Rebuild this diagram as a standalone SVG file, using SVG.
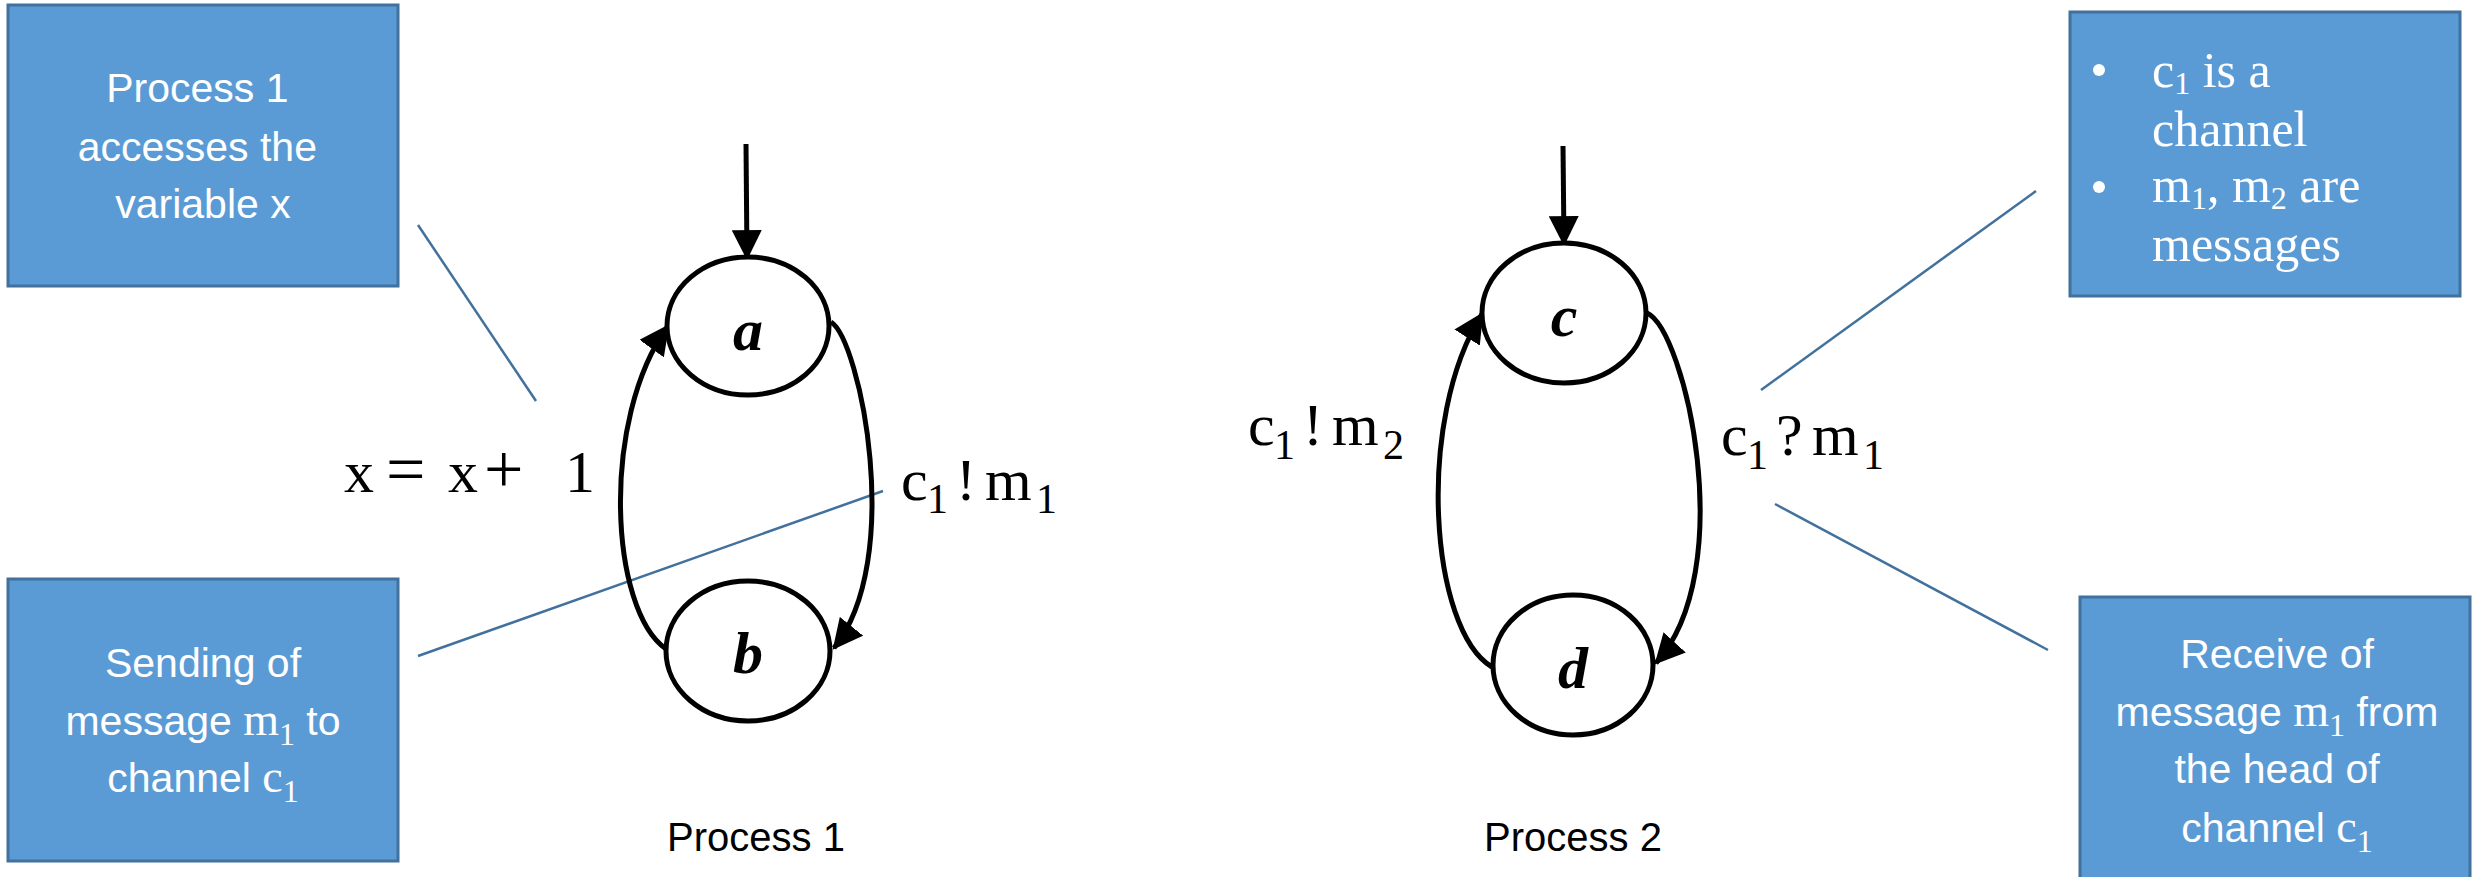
<svg xmlns="http://www.w3.org/2000/svg" width="2473" height="877" viewBox="0 0 2473 877">
  <style>
    .note { fill: #5B9BD5; stroke: #41719C; stroke-width: 3; }
    .note-text { font-family: "Liberation Sans", Arial, sans-serif; font-size: 41px; fill: #ffffff; }
    .note-math { font-family: "Liberation Serif", "Times New Roman", serif; }
    .legend { font-family: "Liberation Serif", "Times New Roman", serif; font-size: 50px; fill: #ffffff; }
    .leader { stroke: #41719C; stroke-width: 2.5; fill: none; }
    .state { fill: #ffffff; stroke: #000000; stroke-width: 5; }
    .state-label { font-family: "Liberation Serif", "Times New Roman", serif; font-size: 60px; font-style: italic; font-weight: bold; text-anchor: middle; fill: #000000; }
    .edge { stroke: #000000; stroke-width: 5; fill: none; marker-end: url(#head); }
    .math { font-family: "Liberation Serif", "Times New Roman", serif; font-size: 60px; fill: #000000; }
    .op { font-size: 70px; }
    .sub { font-size: 42px; }
    .caption { font-family: "Liberation Sans", Arial, sans-serif; font-size: 40px; text-anchor: middle; fill: #000000; }
  </style>
  <defs>
    <marker id="head" markerUnits="userSpaceOnUse" markerWidth="30" markerHeight="30" viewBox="0 0 28 28" refX="26" refY="14" orient="auto">
      <path d="M0,0 L28,14 L0,28 z" fill="#000000"/>
    </marker>
  </defs>

  <rect width="2473" height="877" fill="#ffffff"/>

  <!-- callout leader lines -->
  <g id="leaders">
    <line class="leader" x1="418" y1="225" x2="536" y2="401"/>
    <line class="leader" x1="418" y1="656" x2="883" y2="491"/>
    <line class="leader" x1="1761" y1="390" x2="2036" y2="191"/>
    <line class="leader" x1="1775" y1="504" x2="2048" y2="650"/>
  </g>

  <!-- transitions -->
  <g id="connectors">
    <line class="edge" x1="746" y1="144" x2="747" y2="258"/>
    <path class="edge" d="M831,322 C860,340 905,560 834,648"/>
    <path class="edge" d="M666,649 C610,610 600,420 668,326"/>
    <line class="edge" x1="1563" y1="146" x2="1564" y2="244"/>
    <path class="edge" d="M1647,313 C1685,330 1740,570 1656,663"/>
    <path class="edge" d="M1492,667 C1430,630 1415,420 1482,314"/>
  </g>

  <!-- edge labels -->
  <g id="edge-labels">
    <text class="math" y="492"><tspan x="344">x</tspan><tspan class="op" x="386" dy="1">=</tspan><tspan x="448" dy="-1">x</tspan><tspan class="op" x="484" dy="1">+</tspan><tspan x="565" dy="-1">1</tspan></text>
    <text class="math" y="500"><tspan x="901">c</tspan><tspan class="sub" x="927" dy="13">1</tspan><tspan x="956" dy="-13">!</tspan><tspan x="985">m</tspan><tspan class="sub" x="1036" dy="13">1</tspan></text>
    <text class="math" y="445"><tspan x="1248">c</tspan><tspan class="sub" x="1274" dy="14">1</tspan><tspan x="1303" dy="-14">!</tspan><tspan x="1332">m</tspan><tspan class="sub" x="1383" dy="14">2</tspan></text>
    <text class="math" y="455"><tspan x="1721">c</tspan><tspan class="sub" x="1747" dy="14">1</tspan><tspan x="1776" dy="-14">?</tspan><tspan x="1812">m</tspan><tspan class="sub" x="1863" dy="14">1</tspan></text>
  </g>

  <!-- Process 1 states -->
  <g id="state-a">
    <ellipse class="state" cx="748" cy="326" rx="81" ry="69"/>
    <text class="state-label" x="748" y="350">a</text>
  </g>
  <g id="state-b">
    <ellipse class="state" cx="748" cy="651" rx="82" ry="70"/>
    <text class="state-label" x="748" y="673">b</text>
  </g>

  <!-- Process 2 states -->
  <g id="state-c">
    <ellipse class="state" cx="1564" cy="313" rx="82" ry="70"/>
    <text class="state-label" x="1564" y="336">c</text>
  </g>
  <g id="state-d">
    <ellipse class="state" cx="1573" cy="665" rx="80" ry="70"/>
    <text class="state-label" x="1573" y="688">d</text>
  </g>

  <!-- captions -->
  <g id="caption-p1"><text class="caption" x="756" y="851">Process 1</text></g>
  <g id="caption-p2"><text class="caption" x="1573" y="851">Process 2</text></g>

  <!-- callout boxes -->
  <g id="note-variable">
    <rect class="note" x="8" y="5" width="390" height="281"/>
    <text class="note-text" text-anchor="middle">
      <tspan x="203" y="102">Process 1</tspan>
      <tspan x="203" y="161">accesses the</tspan>
      <tspan x="203" y="218">variable x</tspan>
    </text>
  </g>

  <g id="note-send">
    <rect class="note" x="8" y="579" width="390" height="282"/>
    <text class="note-text" text-anchor="middle" x="203" y="677">Sending of</text>
    <text class="note-text" text-anchor="middle" x="203" y="735">message <tspan class="note-math" font-size="46">m</tspan><tspan class="note-math" font-size="32" dy="10">1</tspan><tspan dy="-10"> to</tspan></text>
    <text class="note-text" text-anchor="middle" x="203" y="792">channel <tspan class="note-math" font-size="46">c</tspan><tspan class="note-math" font-size="32" dy="10">1</tspan></text>
  </g>

  <g id="note-legend">
    <rect class="note" x="2070" y="12" width="390" height="284"/>
    <circle cx="2099" cy="70" r="6" fill="#ffffff"/>
    <circle cx="2099" cy="187" r="6" fill="#ffffff"/>
    <text class="legend" x="2152" y="87">c<tspan font-size="32" dy="7">1</tspan><tspan dy="-7"> is a</tspan></text>
    <text class="legend" x="2152" y="146">channel</text>
    <text class="legend" x="2152" y="202">m<tspan font-size="32" dy="7">1</tspan><tspan dy="-7">, m</tspan><tspan font-size="32" dy="7">2</tspan><tspan dy="-7"> are</tspan></text>
    <text class="legend" x="2152" y="261">messages</text>
  </g>

  <g id="note-receive">
    <rect class="note" x="2080" y="597" width="390" height="295"/>
    <text class="note-text" text-anchor="middle" x="2277" y="668">Receive of</text>
    <text class="note-text" text-anchor="middle" x="2277" y="726">message <tspan class="note-math" font-size="46">m</tspan><tspan class="note-math" font-size="32" dy="10">1</tspan><tspan dy="-10"> from</tspan></text>
    <text class="note-text" text-anchor="middle" x="2277" y="783">the head of</text>
    <text class="note-text" text-anchor="middle" x="2277" y="842">channel <tspan class="note-math" font-size="46">c</tspan><tspan class="note-math" font-size="32" dy="10">1</tspan></text>
  </g>
</svg>
